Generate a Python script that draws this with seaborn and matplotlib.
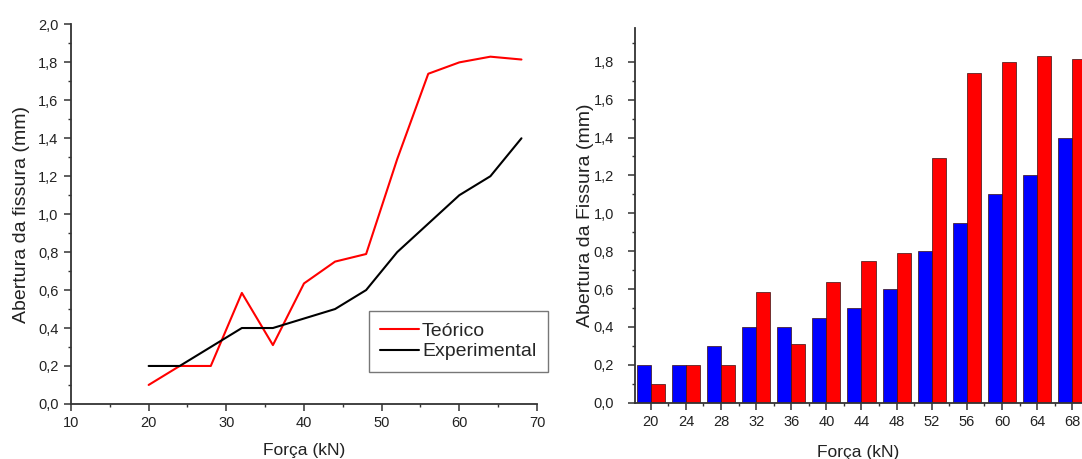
import numpy as np
import pandas as pd
import matplotlib
matplotlib.use('Agg')
import matplotlib.pyplot as plt
import seaborn as sns
from matplotlib.ticker import MultipleLocator, FuncFormatter

# dados
forca = [20, 24, 28, 32, 36, 40, 44, 48, 52, 56, 60, 64, 68]
teorico = [0.10, 0.20, 0.20, 0.585, 0.31, 0.635, 0.75, 0.79, 1.29, 1.74, 1.80, 1.83, 1.815]
experimental = [0.20, 0.20, 0.30, 0.40, 0.40, 0.45, 0.50, 0.60, 0.80, 0.95, 1.10, 1.20, 1.40]

sns.set_style('ticks')
plt.rcParams['font.family'] = ['Liberation Sans', 'DejaVu Sans']
plt.rcParams['xtick.direction'] = 'out'
plt.rcParams['ytick.direction'] = 'out'

fig = plt.figure(figsize=(10.82, 4.59), dpi=100)
ax1 = fig.add_axes([0.0656, 0.12, 0.4307, 0.8268])
ax2 = fig.add_axes([0.5869, 0.1225, 0.4131, 0.8165])

virgula = FuncFormatter(lambda v, p: f'{v:.1f}'.replace('.', ','))
cor_txt = '#222222'

# grafico de linhas
df_lin = pd.DataFrame({'Forca': forca * 2,
                       'Abertura': teorico + experimental,
                       'Serie': ['Teórico'] * len(forca) + ['Experimental'] * len(forca)})
sns.lineplot(data=df_lin, x='Forca', y='Abertura', hue='Serie',
             palette={'Teórico': '#ff0000', 'Experimental': '#000000'},
             linewidth=1.5, ax=ax1)
ax1.set_xlim(10, 70)
ax1.set_ylim(0, 2.0)
ax1.xaxis.set_major_locator(MultipleLocator(10))
ax1.xaxis.set_minor_locator(MultipleLocator(5))
ax1.yaxis.set_major_locator(MultipleLocator(0.2))
ax1.yaxis.set_minor_locator(MultipleLocator(0.1))
ax1.yaxis.set_major_formatter(virgula)
ax1.set_xlabel('Força (kN)', fontsize=12.5, color=cor_txt, labelpad=9)
ax1.set_ylabel('Abertura da fissura (mm)', fontsize=14, color=cor_txt, labelpad=6)
ax1.legend(title=None, loc='lower right', bbox_to_anchor=(0.5065, 0.1895),
           bbox_transform=fig.transFigure, borderaxespad=0, frameon=True,
           fancybox=False, edgecolor='#555555', fontsize=14, handlelength=2.0,
           borderpad=0.6, labelspacing=0.15, handletextpad=0.15)
ax1.get_legend().get_frame().set_linewidth(1.0)

# grafico de barras
df_bar = pd.DataFrame({'Forca': [str(f) for f in forca] * 2,
                       'Abertura': experimental + teorico,
                       'Serie': ['Experimental'] * len(forca) + ['Teórico'] * len(forca)})
sns.barplot(data=df_bar, x='Forca', y='Abertura', hue='Serie',
            palette={'Experimental': '#0000ff', 'Teórico': '#ff0000'},
            saturation=1, width=0.8, edgecolor='#3a1010', linewidth=0.5,
            legend=False, ax=ax2)
ax2.set_xlim(-0.45, 12.28)
ax2.set_ylim(0, 1.978)
ax2.xaxis.set_minor_locator(MultipleLocator(0.5))
ax2.yaxis.set_major_locator(MultipleLocator(0.2))
ax2.yaxis.set_minor_locator(MultipleLocator(0.1))
ax2.yaxis.set_major_formatter(virgula)
ax2.set_xlabel('Força (kN)', fontsize=12.5, color=cor_txt, labelpad=11)
ax2.set_ylabel('Abertura da Fissura (mm)', fontsize=14, color=cor_txt, labelpad=0)

for ax in (ax1, ax2):
    sns.despine(ax=ax)
    for s in ('left', 'bottom'):
        ax.spines[s].set_linewidth(1.3)
        ax.spines[s].set_color('#333333')
    ax.tick_params(which='major', length=5, width=1.1, labelsize=10.5,
                   colors='#333333', labelcolor=cor_txt, pad=4)
    ax.tick_params(which='minor', length=2.5, width=1.0, colors='#333333')
ax2.tick_params(axis='y', which='major', pad=10)

fig.savefig('out.png', dpi=100)
